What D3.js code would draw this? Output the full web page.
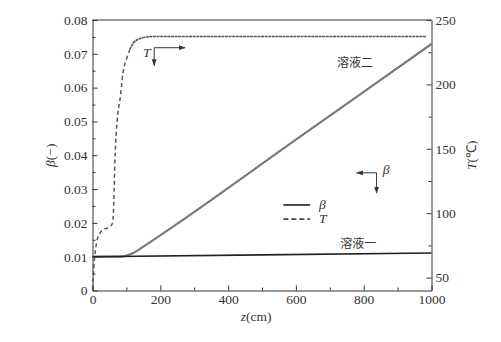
<!DOCTYPE html>
<html>
<head>
<meta charset="utf-8">
<script src="https://cdn.jsdelivr.net/npm/d3@7"></script>
<style>
  body { margin: 0; background: white; }
  text { font-family: "Liberation Serif", "Times New Roman", serif; fill: #333; }
  .cn { font-family: "Noto Sans CJK SC", sans-serif; }
</style>
</head>
<body>
<div id="chart"></div>
<script>
let width = 501, height = 342;

let margin = {
  top: 20,
  bottom: 51.5,
  left: 92.5,
  right: 69.5
};

// axis ticks
let zTicks = [0, 200, 400, 600, 800, 1000];
let betaTicks = [0, 0.01, 0.02, 0.03, 0.04, 0.05, 0.06, 0.07, 0.08];
let tempTicks = [50, 100, 150, 200, 250];

// temperature profile (dashed, right axis)
let zTemp = [0, 2, 6, 12, 22, 35, 52, 60, 63, 66, 70, 75, 81, 90, 102, 110, 120, 135, 150, 180, 985];
let temp = [41, 50, 65, 77, 84.6, 87.5, 89.5, 93, 110, 140, 162, 178, 188, 209, 221, 227, 232, 235, 236.4, 237.2, 237.2];

// beta, solution two (grey)
let zBeta2 = [0, 85, 100, 120, 140, 170, 200, 600, 1000];
let beta2 = [0.01, 0.01, 0.0103, 0.0111, 0.0123, 0.0143, 0.0163, 0.0446, 0.0729];

// beta, solution one (black)
let zBeta1 = [0, 500, 1000];
let beta1 = [0.01, 0.01055, 0.0111];

let svg = d3.select('#chart')
  .append('svg')
  .attr('width', width)
  .attr('height', height)
  .style('background', 'white');

let xscale = d3.scaleLinear()
  .domain([0, 1000])
  .range([margin.left, width - margin.right]);

let yscale = d3.scaleLinear()
  .domain([0, 0.08])
  .range([height - margin.bottom, margin.top]);

let tscale = d3.scaleLinear()
  .domain([40, 250])
  .range([height - margin.bottom, margin.top]);

let x0 = margin.left, x1 = width - margin.right;
let y0 = margin.top, y1 = height - margin.bottom;

// frame top
svg.append('line')
  .attr('x1', x0).attr('x2', x1)
  .attr('y1', y0).attr('y2', y0)
  .attr('stroke', '#333');

function styleAxis(g) {
  g.select('.domain').attr('stroke', '#333');
  g.selectAll('.tick line').attr('stroke', '#333');
  g.selectAll('.tick text')
    .style('font-family', '"Liberation Serif", serif')
    .style('font-size', '13.5px')
    .attr('fill', '#333');
}

// minor ticks
svg.append('g')
  .attr('transform', `translate(${x0}, 0)`)
  .call(d3.axisLeft(yscale).tickValues(d3.range(0.005, 0.08, 0.01)).tickSize(-3).tickFormat(''))
  .call(g => g.select('.domain').remove())
  .call(g => g.selectAll('line').attr('stroke', '#333'));

svg.append('g')
  .attr('transform', `translate(0, ${y1})`)
  .call(d3.axisBottom(xscale).tickValues(d3.range(100, 1000, 200)).tickSize(-3).tickFormat(''))
  .call(g => g.select('.domain').remove())
  .call(g => g.selectAll('line').attr('stroke', '#333'));

svg.append('g')
  .attr('transform', `translate(${x1}, 0)`)
  .call(d3.axisRight(tscale).tickValues([75, 125, 175, 225]).tickSize(-3).tickFormat(''))
  .call(g => g.select('.domain').remove())
  .call(g => g.selectAll('line').attr('stroke', '#333'));

// major axes
svg.append('g')
  .attr('transform', `translate(${x0}, 0)`)
  .call(d3.axisLeft(yscale).tickValues(betaTicks).tickSize(-5).tickSizeOuter(0).tickPadding(5)
    .tickFormat(d => d === 0 ? '0' : d3.format('.2f')(d)))
  .call(styleAxis);

svg.append('g')
  .attr('transform', `translate(0, ${y1})`)
  .call(d3.axisBottom(xscale).tickValues(zTicks).tickSize(-5).tickSizeOuter(0).tickPadding(4)
    .tickFormat(d3.format('d')))
  .call(styleAxis);

svg.append('g')
  .attr('transform', `translate(${x1}, 0)`)
  .call(d3.axisRight(tscale).tickValues(tempTicks).tickSize(-5).tickSizeOuter(0).tickPadding(4))
  .call(styleAxis);

// axis titles
let yt = svg.append('text')
  .attr('transform', `translate(55, ${(y0 + y1) / 2}) rotate(-90)`)
  .attr('text-anchor', 'middle')
  .style('font-size', '13.5px');
yt.append('tspan').style('font-style', 'italic').text('β');
yt.append('tspan').text('(−)');

let xt = svg.append('text')
  .attr('x', 256)
  .attr('y', 321)
  .attr('text-anchor', 'middle')
  .style('font-size', '13.5px');
xt.append('tspan').style('font-style', 'italic').text('z');
xt.append('tspan').text('(cm)');

let tt = svg.append('text')
  .attr('transform', `translate(476, ${(y0 + y1) / 2}) rotate(-90)`)
  .attr('text-anchor', 'middle')
  .style('font-size', '13.5px');
tt.append('tspan').style('font-style', 'italic').text('T');
tt.append('tspan').text('(℃)');

// lines
let betaLine = d3.line()
  .x(d => xscale(d[0]))
  .y(d => yscale(d[1]))
  .curve(d3.curveMonotoneX);

let tempLine = d3.line()
  .x(d => xscale(d[0]))
  .y(d => tscale(d[1]))
  .curve(d3.curveMonotoneX);

svg.append('path')
  .datum(d3.zip(zBeta2, beta2))
  .attr('d', betaLine)
  .attr('fill', 'none')
  .attr('stroke', '#7a7a7a')
  .attr('stroke-width', 2.2);

svg.append('path')
  .datum(d3.zip(zBeta1, beta1))
  .attr('d', betaLine)
  .attr('fill', 'none')
  .attr('stroke', '#222')
  .attr('stroke-width', 1.6);

let tempPts = d3.zip(zTemp, temp);
// rising part dashed, plateau near solid
svg.append('path')
  .datum(tempPts.filter(d => d[0] <= 110))
  .attr('d', tempLine)
  .attr('fill', 'none')
  .attr('stroke', '#555')
  .attr('stroke-width', 1.5)
  .attr('stroke-dasharray', '4,3');

svg.append('path')
  .datum(tempPts.filter(d => d[0] >= 110))
  .attr('d', tempLine)
  .attr('fill', 'none')
  .attr('stroke', '#555')
  .attr('stroke-width', 1.6)
  .attr('stroke-dasharray', '3,0.6');

// arrow marker
svg.append('defs').append('marker')
  .attr('id', 'arrow')
  .attr('viewBox', '0 0 10 10')
  .attr('refX', 9).attr('refY', 5)
  .attr('markerWidth', 7).attr('markerHeight', 7)
  .attr('markerUnits', 'userSpaceOnUse')
  .attr('orient', 'auto')
  .append('path')
  .attr('d', 'M0,1.5 L10,5 L0,8.5 Z')
  .attr('fill', '#333');

function bracket(cz, cb, hz, vb) {
  let cx = xscale(cz), cy = yscale(cb);
  svg.append('line')
    .attr('x1', cx).attr('y1', cy)
    .attr('x2', xscale(hz)).attr('y2', cy)
    .attr('stroke', '#333').attr('marker-end', 'url(#arrow)');
  svg.append('line')
    .attr('x1', cx).attr('y1', cy)
    .attr('x2', cx).attr('y2', yscale(vb))
    .attr('stroke', '#333').attr('marker-end', 'url(#arrow)');
}

bracket(182, 0.0718, 273, 0.0665);
svg.append('text')
  .attr('x', xscale(160)).attr('y', yscale(0.0706) + 5)
  .attr('text-anchor', 'middle')
  .style('font-style', 'italic')
  .style('font-size', '13.5px')
  .text('T');

bracket(838, 0.0348, 779, 0.0288);
svg.append('text')
  .attr('x', xscale(866)).attr('y', yscale(0.0356) + 4)
  .attr('text-anchor', 'middle')
  .style('font-style', 'italic')
  .style('font-size', '13.5px')
  .text('β');

// solution labels
svg.append('text')
  .attr('class', 'cn')
  .attr('x', xscale(774)).attr('y', yscale(0.0672) + 4)
  .attr('text-anchor', 'middle')
  .style('font-size', '12px')
  .text('溶液二');

svg.append('text')
  .attr('class', 'cn')
  .attr('x', xscale(784)).attr('y', yscale(0.0137) + 4)
  .attr('text-anchor', 'middle')
  .style('font-size', '12px')
  .text('溶液一');

// legend
let legend = [
  { label: 'β', dash: null, b: 0.0253, color: '#222' },
  { label: 'T', dash: '5,3', b: 0.0211, color: '#444' }
];

legend.forEach(d => {
  svg.append('line')
    .attr('x1', xscale(563)).attr('x2', xscale(642))
    .attr('y1', yscale(d.b)).attr('y2', yscale(d.b))
    .attr('stroke', d.color)
    .attr('stroke-width', 1.6)
    .attr('stroke-dasharray', d.dash);
  svg.append('text')
    .attr('x', xscale(668)).attr('y', yscale(d.b) + 4)
    .style('font-style', 'italic')
    .style('font-size', '13.5px')
    .text(d.label);
});
</script>
</body>
</html>
